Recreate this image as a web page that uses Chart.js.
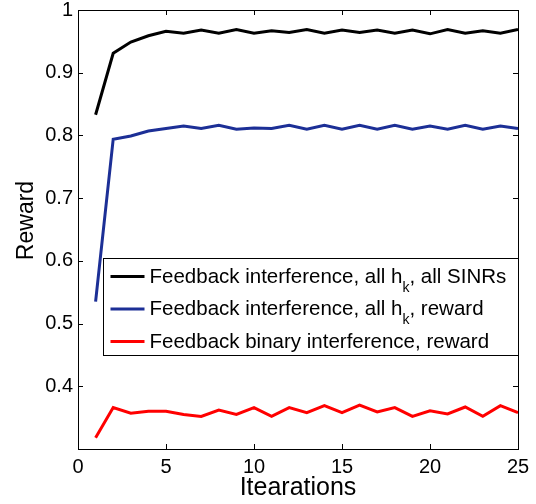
<!DOCTYPE html>
<html>
<head>
<meta charset="utf-8">
<script src="https://cdn.jsdelivr.net/npm/chart.js@4.4.0/dist/chart.umd.min.js"></script>
<style>
  html, body { margin: 0; padding: 0; background: #fff; }
  #wrap { width: 536px; height: 504px; }
</style>
</head>
<body>
<div id="wrap"><canvas id="c" width="536" height="504"></canvas></div>
<script>
const iterations = [1,2,3,4,5,6,7,8,9,10,11,12,13,14,15,16,17,18,19,20,21,22,23,24,25];
const rewardAllSINRs = [0.833,0.931,0.949,0.959,0.966,0.963,0.968,0.963,0.969,0.963,0.967,0.964,0.969,0.963,0.968,0.964,0.968,0.963,0.968,0.962,0.969,0.963,0.967,0.963,0.969];
const rewardAllHkReward = [0.535,0.794,0.799,0.807,0.811,0.815,0.811,0.816,0.810,0.812,0.811,0.816,0.810,0.816,0.810,0.816,0.810,0.816,0.810,0.815,0.810,0.816,0.810,0.815,0.811];
const rewardBinary = [0.318,0.366,0.357,0.360,0.360,0.355,0.352,0.362,0.355,0.366,0.352,0.366,0.358,0.369,0.358,0.370,0.359,0.366,0.352,0.361,0.356,0.367,0.352,0.369,0.358];
const xTicks = [0,5,10,15,20,25];
const yTicks = [0.4,0.5,0.6,0.7,0.8,0.9,1];
const legendLabels = [
  ["Feedback interference, all h", "k", ", all SINRs"],
  ["Feedback interference, all h", "k", ", reward"],
  ["Feedback binary interference, reward", "", ""]
];
const xTitle = "Itearations";
const yTitle = "Reward";

const FONT = "'Liberation Sans', Arial, Helvetica, sans-serif";
const colors = ["#000000", "#1c2f96", "#ff0000"];
const series = [rewardAllSINRs, rewardAllHkReward, rewardBinary];

function pts(vals) { return iterations.map((x, i) => ({x: x, y: vals[i]})); }

const frameAndLegend = {
  id: 'frameAndLegend',
  afterDatasetsDraw(chart) {
    const ctx = chart.ctx;
    const a = chart.chartArea;
    const xs = chart.scales.x, ys = chart.scales.y;
    ctx.save();
    // frame
    ctx.strokeStyle = '#000';
    ctx.lineWidth = 1;
    ctx.strokeRect(Math.round(a.left) + 0.5, Math.round(a.top) + 0.5, Math.round(a.right - a.left), Math.round(a.bottom - a.top));
    // inward ticks
    const tl = 5;
    ctx.beginPath();
    xTicks.forEach(v => {
      const px = Math.round(xs.getPixelForValue(v)) + 0.5;
      ctx.moveTo(px, a.bottom); ctx.lineTo(px, a.bottom - tl);
      ctx.moveTo(px, a.top); ctx.lineTo(px, a.top + tl);
    });
    yTicks.forEach(v => {
      const py = Math.round(ys.getPixelForValue(v)) + 0.5;
      ctx.moveTo(a.left, py); ctx.lineTo(a.left + tl, py);
      ctx.moveTo(a.right, py); ctx.lineTo(a.right - tl, py);
    });
    ctx.stroke();
    // y axis title
    ctx.save();
    ctx.fillStyle = '#000';
    ctx.font = '23px ' + FONT;
    ctx.translate(33, (a.top + a.bottom) / 2 - 9);
    ctx.rotate(-Math.PI / 2);
    ctx.textAlign = 'center';
    ctx.textBaseline = 'alphabetic';
    ctx.fillText(yTitle, 0, 0);
    ctx.restore();
    // legend
    const L = Math.round(a.left + 25) + 0.5;
    const R = Math.round(a.right) + 0.5;
    const T = Math.round(a.top + 248) + 0.5;
    const H = 97;
    ctx.fillStyle = '#fff';
    ctx.fillRect(L, T, R - L, H);
    ctx.strokeStyle = '#000';
    ctx.lineWidth = 1;
    ctx.strokeRect(L, T, R - L, H);
    const baselines = [T + 24, T + 56.5, T + 89];
    legendLabels.forEach((parts, i) => {
      const by = baselines[i];
      ctx.strokeStyle = colors[i];
      ctx.lineWidth = 3;
      ctx.beginPath();
      ctx.moveTo(L + 7, by - 6);
      ctx.lineTo(L + 41, by - 6);
      ctx.stroke();
      ctx.fillStyle = '#000';
      ctx.textBaseline = 'alphabetic';
      ctx.textAlign = 'left';
      let x = L + 46;
      ctx.font = '20.5px ' + FONT;
      ctx.fillText(parts[0], x, by);
      x += ctx.measureText(parts[0]).width;
      if (parts[1]) {
        ctx.font = '14px ' + FONT;
        ctx.fillText(parts[1], x, by + 9);
        x += ctx.measureText(parts[1]).width;
      }
      if (parts[2]) {
        ctx.font = '20.5px ' + FONT;
        ctx.fillText(parts[2], x, by);
      }
    });
    ctx.restore();
  }
};

new Chart(document.getElementById('c'), {
  type: 'line',
  data: {
    datasets: series.map((s, i) => ({
      label: legendLabels[i].join(''),
      data: pts(s),
      borderColor: colors[i],
      backgroundColor: colors[i],
      borderWidth: 3,
      pointRadius: 0,
      tension: 0,
      fill: false
    }))
  },
  options: {
    responsive: false,
    animation: false,
    layout: { padding: { top: 10, right: 18, left: 0, bottom: 0 } },
    plugins: { legend: { display: false }, tooltip: { enabled: false } },
    scales: {
      x: {
        type: 'linear',
        min: 0, max: 25,
        afterBuildTicks(scale) { scale.ticks = xTicks.map(v => ({value: v})); },
        afterFit(scale) { scale.height = 55; },
        grid: { display: false, drawTicks: false },
        border: { display: false },
        ticks: {
          color: '#000', padding: 6, maxRotation: 0,
          font: { family: FONT, size: 20 },
          callback: v => String(v)
        },
        title: {
          display: true, text: xTitle, color: '#000',
          font: { family: FONT, size: 25 },
          padding: { top: 0, bottom: 1 }
        }
      },
      y: {
        type: 'linear',
        min: 0.3, max: 1,
        afterBuildTicks(scale) { scale.ticks = yTicks.map(v => ({value: v})); },
        afterFit(scale) { scale.width = 78; scale.paddingTop = 0; scale.paddingBottom = 0; },
        grid: { display: false, drawTicks: false },
        border: { display: false },
        ticks: {
          color: '#000', padding: 5,
          font: { family: FONT, size: 20 },
          callback: v => String(Number(v.toFixed(1)))
        },
        title: { display: false }
      }
    }
  },
  plugins: [frameAndLegend]
});
</script>
</body>
</html>
